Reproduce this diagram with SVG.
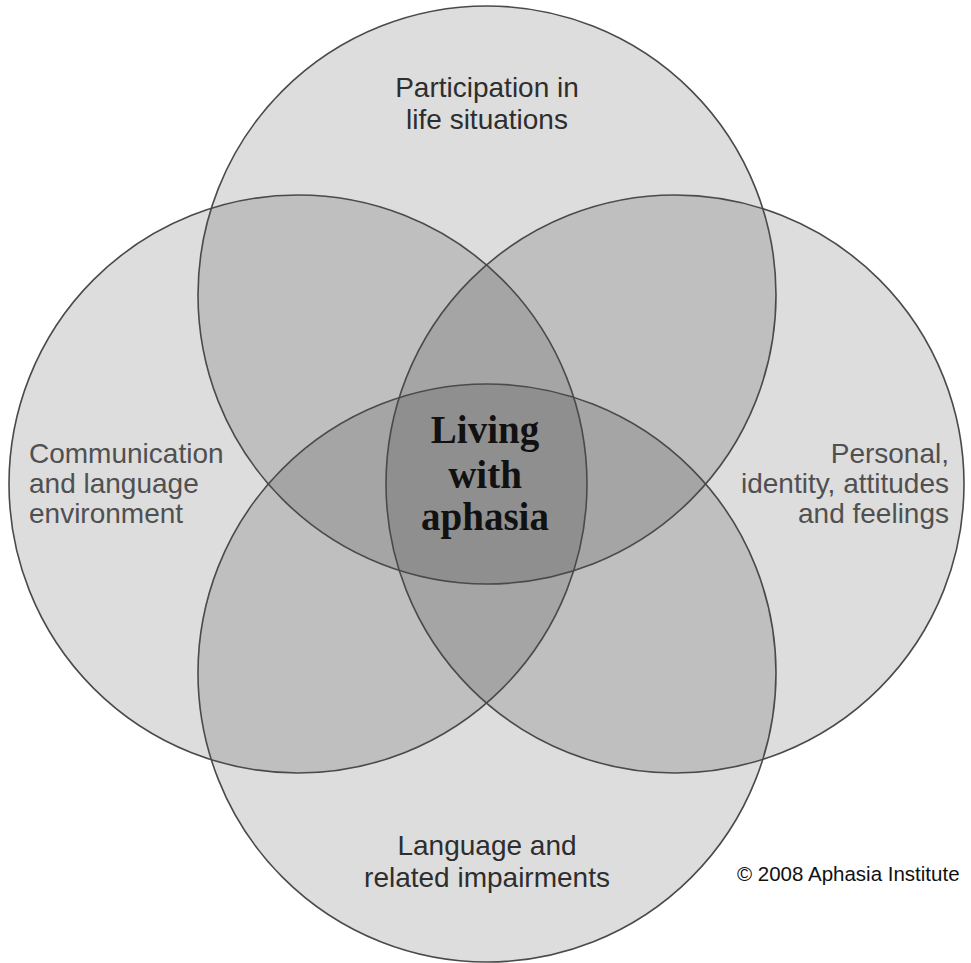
<svg xmlns="http://www.w3.org/2000/svg" width="971" height="963" viewBox="0 0 971 963">
<style>
.c{fill:#000;fill-opacity:0.135;stroke:none}
.o{fill:none;stroke:#4a4a4a;stroke-width:1.6}
.lb{font-family:"Liberation Sans",Arial,sans-serif;font-size:28px;fill:#2e2e2e}
.ls{font-family:"Liberation Sans",Arial,sans-serif;font-size:28px;fill:#505050}
.ctr{font-family:"Liberation Serif","Times New Roman",serif;font-size:39px;font-weight:bold;fill:#111;text-anchor:middle}
.cp{font-family:"Liberation Sans",Arial,sans-serif;font-size:20.5px;fill:#111}
</style>
<rect width="971" height="963" fill="#fff"/>
<g id="participation">
<circle class="c" cx="487" cy="295" r="289"/>
<text class="lb" text-anchor="middle" x="487" y="97">Participation in</text>
<text class="lb" text-anchor="middle" x="487" y="129">life situations</text>
</g>
<g id="communication">
<circle class="c" cx="298" cy="484" r="289"/>
<text class="ls" x="29" y="463">Communication</text>
<text class="ls" x="29" y="493">and language</text>
<text class="ls" x="29" y="523">environment</text>
</g>
<g id="personal">
<circle class="c" cx="675" cy="484" r="289"/>
<text class="ls" text-anchor="end" x="949" y="463">Personal,</text>
<text class="ls" text-anchor="end" x="949" y="493">identity, attitudes</text>
<text class="ls" text-anchor="end" x="949" y="523">and feelings</text>
</g>
<g id="language">
<circle class="c" cx="487" cy="673" r="289"/>
<text class="lb" text-anchor="middle" x="487" y="855">Language and</text>
<text class="lb" text-anchor="middle" x="487" y="887">related impairments</text>
</g>
<g id="outlines">
<circle class="o" cx="487" cy="295" r="289"/>
<circle class="o" cx="298" cy="484" r="289"/>
<circle class="o" cx="675" cy="484" r="289"/>
<circle class="o" cx="487" cy="673" r="289"/>
</g>
<g id="living-with-aphasia">
<text class="ctr" x="485" y="443">Living</text>
<text class="ctr" x="485" y="488">with</text>
<text class="ctr" x="485" y="530">aphasia</text>
</g>
<g id="copyright">
<text class="cp" x="737" y="881">© 2008 Aphasia Institute</text>
</g>
</svg>
